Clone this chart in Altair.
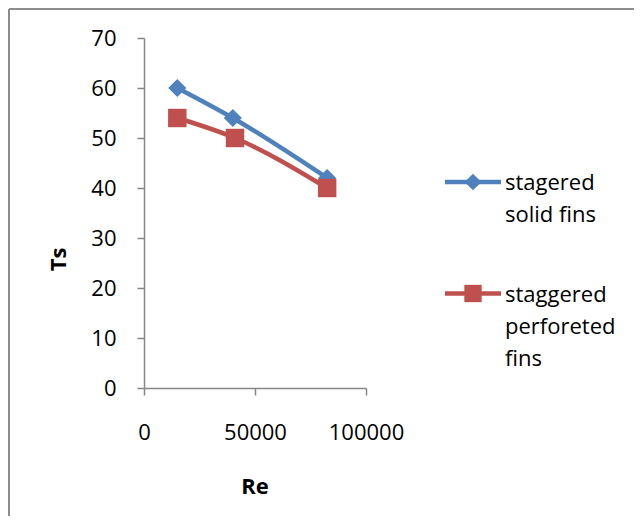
import altair as alt
import pandas as pd

# ---- data ----
re_solid = [15000, 40000, 82500]
ts_solid = [60, 54, 42]
re_perf = [15000, 41000, 82500]
ts_perf = [54, 50, 40]
legend_lines = [["stagered", "solid fins"], ["staggered", "perforeted", "fins"]]
series = [" ".join(l) for l in legend_lines]
colors = ["#4F81BD", "#C0504D"]
shapes = ["diamond", "square"]
x_ticks = [0, 50000, 100000]
y_ticks = [0, 10, 20, 30, 40, 50, 60, 70]

FONT = "Open Sans"

df = pd.DataFrame({
    "Re": re_solid + re_perf,
    "Ts": ts_solid + ts_perf,
    "series": [series[0]] * len(re_solid) + [series[1]] * len(re_perf),
})

x_enc = alt.X("Re:Q", scale=alt.Scale(domain=[0, 100000], nice=False),
              axis=alt.Axis(values=x_ticks, format="d", title="Re", labelFlush=False,
                            labelPadding=27, tickSize=7,
                            titleX=110.5, titleY=105, titleAlign="center",
                            titleBaseline="alphabetic"))
y_enc = alt.Y("Ts:Q", scale=alt.Scale(domain=[0, 70], nice=False),
              axis=alt.Axis(values=y_ticks, title="Ts", labelPadding=21, tickSize=7,
                            titleX=-86, titleY=221, titleAngle=270, titleAlign="center",
                            titleBaseline="middle"))
color_enc = alt.Color("series:N", scale=alt.Scale(domain=series, range=colors), legend=None)
shape_enc = alt.Shape("series:N", scale=alt.Scale(domain=series, range=shapes), legend=None)

lines = alt.Chart(df).mark_line(strokeWidth=4.5, interpolate="monotone").encode(
    x=x_enc, y=y_enc, color=color_enc, detail="series:N")
pts_d = alt.Chart(df[df.series == series[0]]).mark_point(filled=True, size=330, opacity=1).encode(
    x="Re:Q", y="Ts:Q", color=color_enc, shape=shape_enc)
pts_s = alt.Chart(df[df.series == series[1]]).mark_point(filled=True, size=340, opacity=1).encode(
    x="Re:Q", y="Ts:Q", color=color_enc, shape=shape_enc)

# frame (left and top edges of the chart border)
frame_top = alt.Chart(pd.DataFrame({"a": [0]})).mark_rule(color="#8C8C8C", strokeWidth=2).encode(
    x=alt.value(-135), x2=alt.value(490), y=alt.value(-29))
frame_left = alt.Chart(pd.DataFrame({"a": [0]})).mark_rule(color="#8C8C8C", strokeWidth=2).encode(
    x=alt.value(-135), y=alt.value(-29), y2=alt.value(490))

# manual legend
legend_layers = []
leg_y = [144, 255.5]
text_y = [151.5, 263.5]
sizes = [280, 300]
for i in range(2):
    d = pd.DataFrame({"label": ["\n".join(legend_lines[i])]})
    legend_layers.append(alt.Chart(d).mark_rule(strokeWidth=4.5, color=colors[i]).encode(
        x=alt.value(301), x2=alt.value(357), y=alt.value(leg_y[i])))
    legend_layers.append(alt.Chart(d).mark_point(filled=True, opacity=1, color=colors[i],
                                                 shape=shapes[i], size=sizes[i]).encode(
        x=alt.value(329), y=alt.value(leg_y[i])))
    legend_layers.append(alt.Chart(d).mark_text(align="left", baseline="alphabetic", lineBreak="\n",
                                                lineHeight=32, font=FONT, fontSize=22,
                                                color="black").encode(
        x=alt.value(361), y=alt.value(text_y[i]), text="label:N"))

chart = alt.layer(frame_top, frame_left, lines, pts_d, pts_s, *legend_layers).properties(
    width=222, height=350,
    autosize=alt.AutoSizeParams(type="none"),
    padding={"left": 136, "top": 30, "right": 268, "bottom": 128},
    background="white",
).configure_view(stroke=None).configure_axis(
    grid=False, domainColor="#868686", tickColor="#868686", domainWidth=1.5, tickWidth=1.5,
    labelFont=FONT, labelFontSize=22, labelColor="black",
    titleFont=FONT, titleFontSize=22, titleFontWeight="bold", titleColor="black",
)

chart.save("out.html", embed_options={"renderer": "svg", "actions": False})
